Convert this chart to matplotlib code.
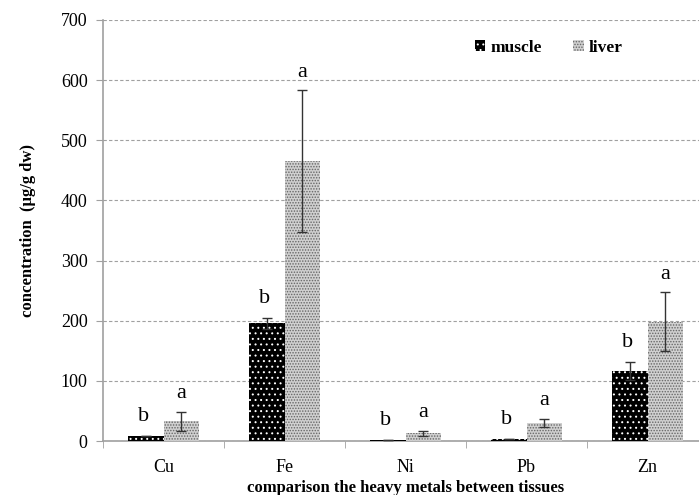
import numpy as np
import matplotlib
matplotlib.use('Agg')
import matplotlib.pyplot as plt

metals = ['Cu', 'Fe', 'Ni', 'Pb', 'Zn']
muscle = [8, 196, 2, 3.5, 116]
muscle_err = [0, 9, 0, 0, 15]
liver = [33, 465, 13, 30, 198]
liver_err = [16, 118, 4, 7, 49]
muscle_letters = ['b', 'b', 'b', 'b', 'b']
liver_letters = ['a', 'a', 'a', 'a', 'a']

plt.rcParams['font.family'] = ['Liberation Serif', 'DejaVu Serif']
plt.rcParams['hatch.linewidth'] = 0.7

fig = plt.figure(figsize=(6.99, 4.95), dpi=100)
ax = fig.add_axes([103 / 699, 1 - 441 / 495, 605 / 699, 421 / 495])

x = np.arange(len(metals))
w = 0.29

b1 = ax.bar(x - w / 2, muscle, w, color='black', edgecolor='white', hatch='...',
            linewidth=0, label='muscle', zorder=3)
b2 = ax.bar(x + w / 2, liver, w, color='#d0d0d0', edgecolor='#666666', hatch='......',
            linewidth=0, label='liver', zorder=3)

ax.errorbar(x - w / 2, muscle, yerr=muscle_err, fmt='none', ecolor='#333333',
            elinewidth=1, capsize=3.5, zorder=4)
ax.errorbar(x + w / 2, liver, yerr=liver_err, fmt='none', ecolor='#333333',
            elinewidth=1, capsize=3.5, zorder=4)

for i in range(len(metals)):
    ax.annotate(muscle_letters[i], (x[i] - w / 2, muscle[i] + muscle_err[i]),
                xytext=(-2, 7), textcoords='offset points', ha='center', va='bottom',
                fontsize=16)
    ax.annotate(liver_letters[i], (x[i] + w / 2, liver[i] + liver_err[i]),
                xytext=(0, 6), textcoords='offset points', ha='center', va='bottom',
                fontsize=16)

ax.set_ylim(0, 700)
ax.set_yticks(range(0, 701, 100))
ax.set_xlim(-0.5, 4.5 - 9 / 121)
ax.set_xticks(x)
ax.set_xticklabels(metals, fontsize=13)
ax.set_xticks(np.arange(-0.5, 5, 1), minor=True)
ax.tick_params(axis='x', which='major', length=0, pad=13)
ax.tick_params(axis='x', which='minor', length=5, color='#a0a0a0', direction='out')
ax.tick_params(axis='y', labelsize=13, length=5, color='#a0a0a0', pad=6)

ax.yaxis.grid(True, linestyle=(0, (3, 2)), color='#a0a0a0', linewidth=0.8, zorder=0)
ax.set_axisbelow(True)
for s in ['top', 'right']:
    ax.spines[s].set_visible(False)
ax.spines['left'].set_color('#a0a0a0')
ax.spines['bottom'].set_color('#a0a0a0')
ax.spines['left'].set_linewidth(1.2)
ax.spines['bottom'].set_linewidth(1.2)

ax.set_xlabel('comparison the heavy metals between tissues', fontsize=12,
              fontweight='bold', labelpad=3)
ax.set_ylabel('concentration  (µg/g dw)', fontsize=12, fontweight='bold', labelpad=18)

ax.legend(loc='upper right', bbox_to_anchor=(0.885, 0.99), ncol=2, frameon=False,
          prop={'weight': 'bold', 'size': 12.5}, handlelength=0.6, handleheight=0.6,
          handletextpad=0.3, columnspacing=1.8)

fig.savefig('out.png', dpi=100)
